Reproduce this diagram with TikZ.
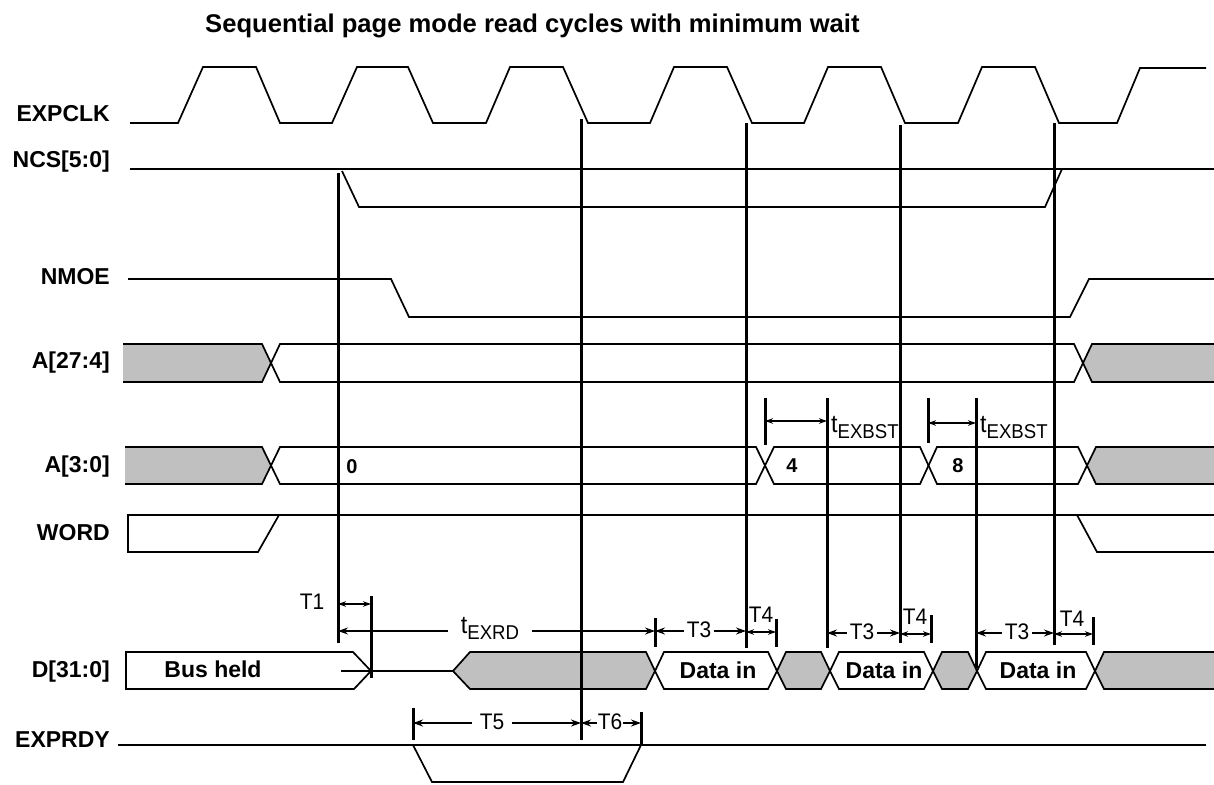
\documentclass[tikz,border=0pt]{standalone}
\usepackage{fontspec}
\setmainfont{Liberation Sans}
\newfontfamily\narrowfont[FakeStretch=0.93]{Liberation Sans}
\usetikzlibrary{arrows.meta}
\definecolor{busgray}{RGB}{192,192,192}
\newcommand{\tsub}[2]{{\narrowfont\fontsize{25}{28}\selectfont #1\raisebox{-6pt}{\fontsize{20}{23}\selectfont #2}}}
\begin{document}
\begin{tikzpicture}[x=1pt,y=-1pt,
  sig/.style={line width=1.7pt, line join=miter},
  vbar/.style={line width=3pt},
  sname/.style={font=\fontsize{23}{26}\selectfont\bfseries, anchor=base east, inner sep=0pt},
  val/.style={font=\fontsize{20}{22}\selectfont\bfseries, inner sep=0pt},
  bval/.style={font=\fontsize{23}{26}\selectfont\bfseries, inner sep=0pt, anchor=base},
  tlab/.style={font=\narrowfont\fontsize{22.5}{26}\selectfont, inner sep=0pt, inner xsep=3pt},
  dim/.style={line width=1.2pt, -{Stealth[length=10pt,width=7pt]}},
  dimb/.style={line width=1.2pt, {Stealth[length=8pt,width=5.5pt]}-{Stealth[length=8pt,width=5.5pt]}},
]
\useasboundingbox (0,0) rectangle (1214,784);

% title
\node[anchor=base west, font=\fontsize{25.6}{28}\selectfont\bfseries, inner sep=0pt] (title) at (205,33)
  {Sequential page mode read cycles with minimum wait};

% signal names
\node[sname] (lclk) at (110,121) {EXPCLK};
\node[sname] (lncs) at (110,167) {NCS[5:0]};
\node[sname] (lnmoe) at (110,284) {NMOE};
\node[sname] (la274) at (110,368) {A[27:4]};
\node[sname] (la30) at (110,472) {A[3:0]};
\node[sname] (lword) at (110,540) {WORD};
\node[sname] (ld) at (110,677) {D[31:0]};
\node[sname] (lrdy) at (110,747) {EXPRDY};

% EXPCLK
\draw[sig] (130,123) -- (178,123) -- (203,67) -- (256,67) -- (280,123) -- (332,123) -- (357,67)
  -- (408,67) -- (433,123) -- (486,123) -- (510,67) -- (563,67) -- (588,123) -- (650,123)
  -- (674,67) -- (727,67) -- (752,123) -- (804,123) -- (828,67) -- (881,67) -- (905,123)
  -- (958,123) -- (982,67) -- (1035,67) -- (1059,123) -- (1117,123) -- (1140,68) -- (1206,68);

% NCS
\draw[sig] (130,169) -- (1214,169);
\draw[sig] (342,171) -- (359,207) -- (1045,207) -- (1062,169);

% NMOE
\draw[sig] (128,279) -- (391,279) -- (409,317) -- (1070,317) -- (1089,279) -- (1214,279);

% A[27:4]
\fill[busgray] (123,344) -- (262,344) -- (271,363) -- (262,382) -- (123,382) -- cycle;
\fill[busgray] (1083,363) -- (1092,344) -- (1214,344) -- (1214,382) -- (1092,382) -- cycle;
\draw[sig] (123,344) -- (262,344) -- (280,382) -- (1074,382) -- (1092,344) -- (1214,344);
\draw[sig] (123,382) -- (262,382) -- (280,344) -- (1074,344) -- (1092,382) -- (1214,382);

% A[3:0]
\fill[busgray] (125,447) -- (262,447) -- (271,465.5) -- (262,484) -- (125,484) -- cycle;
\fill[busgray] (1087,465.5) -- (1096,447) -- (1214,447) -- (1214,484) -- (1096,484) -- cycle;
\draw[sig] (125,447) -- (262,447) -- (280,484) -- (756,484) -- (774,447) -- (920,447) -- (937,484)
  -- (1078,484) -- (1096,447) -- (1214,447);
\draw[sig] (125,484) -- (262,484) -- (280,447) -- (756,447) -- (774,484) -- (920,484) -- (937,447)
  -- (1078,447) -- (1096,484) -- (1214,484);
\node[val] (v0) at (352,467) {0};
\node[val] (v4) at (792,466) {4};
\node[val] (v8) at (958,466) {8};

% WORD
\draw[sig] (1214,515) -- (128,515) -- (128,552) -- (258,552) -- (279,515);
\draw[sig] (1077,515) -- (1097,552) -- (1214,552);

% D[31:0]
\draw[sig] (126,652) -- (353,652) -- (371,671) -- (354,689) -- (126,689) -- cycle;
\draw[sig] (341,671) -- (453,671);
\filldraw[sig, fill=busgray] (453,671) -- (470,652) -- (646,652) -- (655,671) -- (646,689) -- (470,689) -- cycle;
\draw[sig] (655,671) -- (664,652) -- (768,652) -- (777,671) -- (768,689) -- (664,689) -- cycle;
\filldraw[sig, fill=busgray] (777,671) -- (786,652) -- (821,652) -- (830,671) -- (821,689) -- (786,689) -- cycle;
\draw[sig] (830,671) -- (839,652) -- (924,652) -- (933,671) -- (924,689) -- (839,689) -- cycle;
\filldraw[sig, fill=busgray] (933,671) -- (942,652) -- (968,652) -- (977,671) -- (968,689) -- (942,689) -- cycle;
\draw[sig] (977,671) -- (986,652) -- (1086,652) -- (1095,671) -- (1086,689) -- (986,689) -- cycle;
\fill[busgray] (1095,671) -- (1104,652) -- (1214,652) -- (1214,689) -- (1104,689) -- cycle;
\draw[sig] (1214,652) -- (1104,652) -- (1095,671) -- (1104,689) -- (1214,689);
\node[bval] (bus) at (213,677) {Bus held};
\node[bval] (din1) at (718,678) {Data in};
\node[bval] (din2) at (884,678) {Data in};
\node[bval] (din3) at (1038,678) {Data in};

% EXPRDY
\draw[sig] (118,745) -- (1206,745);
\draw[sig] (413,745) -- (432,782) -- (623,782) -- (641,745);

% long vertical reference lines
\draw[vbar] (338,173) -- (338,643);
\draw[vbar] (581,119) -- (581,740);
\draw[vbar] (746,123) -- (746,648);
\draw[vbar] (900,125) -- (900,643);
\draw[vbar] (1054,123) -- (1054,645);
\draw[vbar] (827,398) -- (827,648);
\draw[vbar] (976,398) -- (976,668);
% short bars
\draw[vbar] (765,398) -- (765,445);
\draw[vbar] (928,398) -- (928,443);
\draw[vbar] (371,596) -- (371,678);
\draw[vbar] (655,618) -- (655,647);
\draw[vbar] (776,619) -- (776,647);
\draw[vbar] (931,615) -- (931,643);
\draw[vbar] (1093,617) -- (1093,645);
\draw[vbar] (413,708) -- (413,740);
\draw[vbar] (641,712) -- (641,744);

% tEXBST
\coordinate (bst1a) at (765,421);
\coordinate (bst1b) at (827,421);
\draw[dimb] (bst1a) -- (bst1b);
\node[anchor=base west, inner sep=0pt] (tbst1) at (831,432) {\tsub{t}{EXBST}};
\coordinate (bst2a) at (928,423);
\coordinate (bst2b) at (976,423);
\draw[dimb] (bst2a) -- (bst2b);
\node[anchor=base west, inner sep=0pt] (tbst2) at (980,432) {\tsub{t}{EXBST}};

% T1
\node[tlab, anchor=base] (t1) at (312,609) {T1};
\coordinate (t1a) at (338,604);
\coordinate (t1b) at (371,604);
\draw[dimb] (t1a) -- (t1b);

% tEXRD
\node[anchor=base, inner sep=0pt, inner xsep=13pt] (texrd) at (490,633) {\tsub{t}{EXRD}};
\coordinate (exrdL) at (338,631);
\coordinate (exrdR) at (655,631);
\draw[dim] (texrd.west |- exrdL) -- (exrdL);
\draw[dim] (texrd.east |- exrdR) -- (exrdR);

% T3 (three times)
\node[tlab] (t3a) at (699,630) {T3};
\coordinate (t3aL) at (655,631); \coordinate (t3aR) at (746,631);
\draw[dim] (t3a.west |- t3aL) -- (t3aL);
\draw[dim] (t3a.east |- t3aR) -- (t3aR);
\node[tlab] (t3b) at (862,632) {T3};
\coordinate (t3bL) at (827,633); \coordinate (t3bR) at (900,633);
\draw[dim] (t3b.west |- t3bL) -- (t3bL);
\draw[dim] (t3b.east |- t3bR) -- (t3bR);
\node[tlab] (t3c) at (1017,632) {T3};
\coordinate (t3cL) at (976,633); \coordinate (t3cR) at (1054,633);
\draw[dim] (t3c.west |- t3cL) -- (t3cL);
\draw[dim] (t3c.east |- t3cR) -- (t3cR);

% T4 (three times)
\node[tlab, inner xsep=0pt] (t4a) at (761,615) {T4};
\coordinate (t4aL) at (746,632); \coordinate (t4aR) at (776,632);
\draw[dimb] (t4aL) -- (t4aR);
\node[tlab, inner xsep=0pt] (t4b) at (915,617) {T4};
\coordinate (t4bL) at (900,634); \coordinate (t4bR) at (931,634);
\draw[dimb] (t4bL) -- (t4bR);
\node[tlab, inner xsep=0pt] (t4c) at (1072,619) {T4};
\coordinate (t4cL) at (1054,634); \coordinate (t4cR) at (1093,634);
\draw[dimb] (t4cL) -- (t4cR);

% T5 / T6
\node[tlab, inner xsep=8pt] (t5) at (492,722) {T5};
\coordinate (t5L) at (413,723); \coordinate (t5R) at (581,723);
\draw[dim] (t5.west |- t5L) -- (t5L);
\draw[dim] (t5.east |- t5R) -- (t5R);
\node[tlab, inner xsep=0.5pt] (t6) at (610,722) {T6};
\coordinate (t6L) at (581,723); \coordinate (t6R) at (641,723);
\draw[dim] (t6.west |- t6L) -- (t6L);
\draw[dim] (t6.east |- t6R) -- (t6R);
\end{tikzpicture}
\end{document}
